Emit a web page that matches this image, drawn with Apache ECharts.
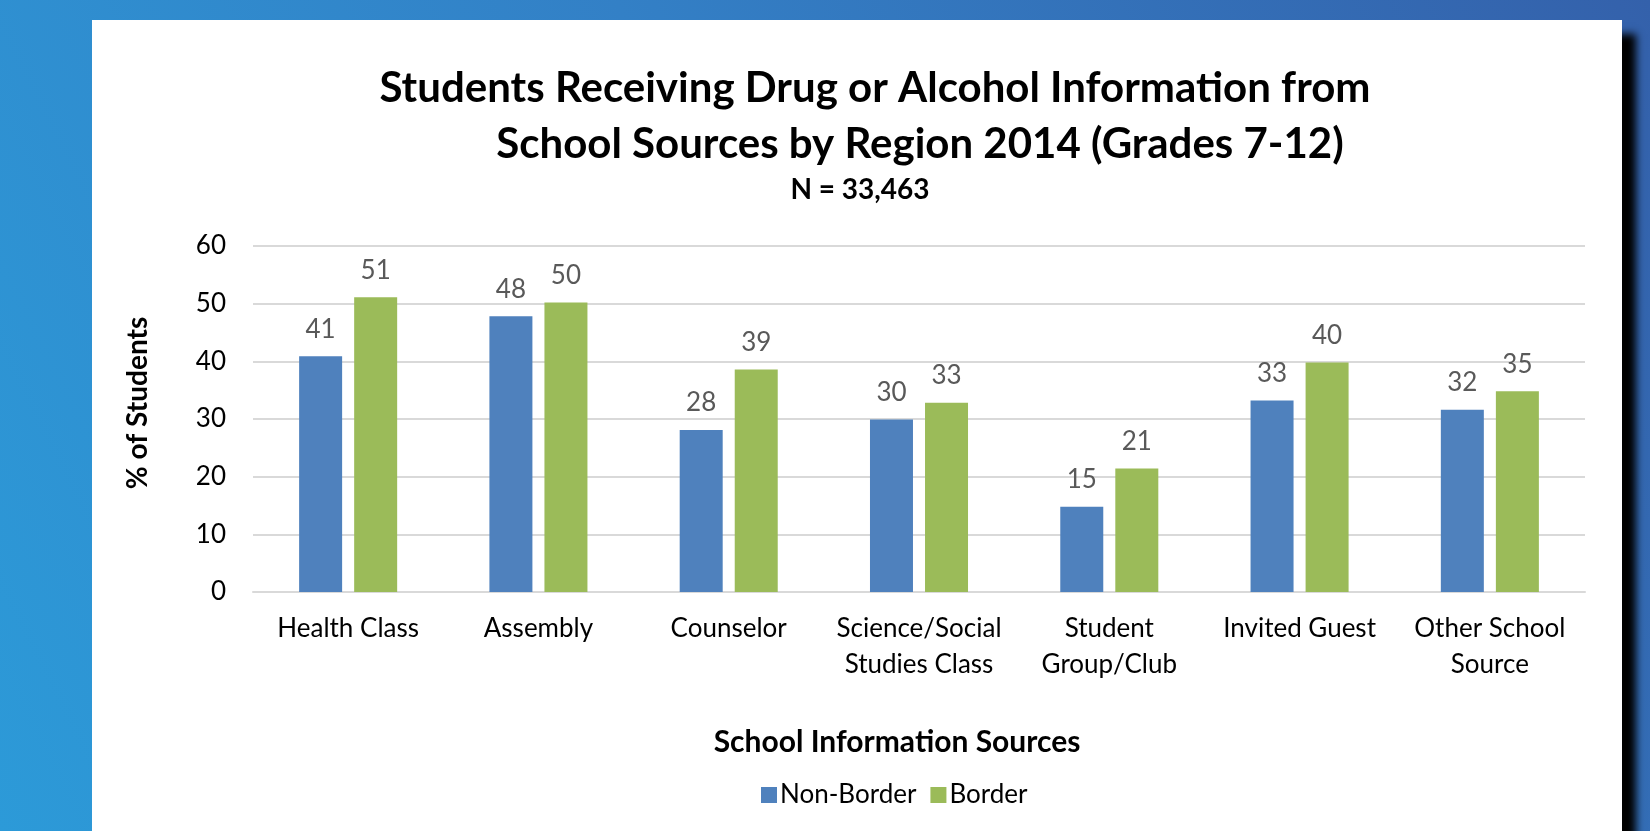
<!DOCTYPE html>
<html lang="en">
<head>
    <meta charset="UTF-8">
    <title>Students Receiving Drug or Alcohol Information</title>
    <script src="https://cdn.jsdelivr.net/npm/echarts@6/dist/echarts.min.js"></script>
    <style>
        html, body, #chart {
            width: 100%;
            height: 100%;
            padding: 0;
            margin: 0;
            overflow: hidden;
        }
    </style>
</head>
<body>
<div id="chart"></div>
<script>
    // data
    var categories = ["Health Class", "Assembly", "Counselor", "Science/Social\nStudies Class",
        "Student\nGroup/Club", "Invited Guest", "Other School\nSource"];
    var nonBorder = [40.9, 47.8, 28.1, 29.9, 14.8, 33.2, 31.6];
    var border = [51.1, 50.2, 38.6, 32.8, 21.4, 39.8, 34.8];
    var yTicks = { min: 0, max: 60, interval: 10 };

    var FONT = "Lato";
    var myChart = echarts.init(document.getElementById("chart"));

    var valueLabel = {
        show: true,
        position: "top",
        distance: 14,
        color: "#595959",
        fontFamily: FONT,
        fontSize: 26,
        formatter: function (p) {
            return Math.round(p.value);
        }
    };

    myChart.setOption({
        animation: false,
        backgroundColor: {
            type: "linear", x: 1, y: 0, x2: 0, y2: 1,
            colorStops: [
                { offset: 0, color: "#3461ab" },
                { offset: 0.5, color: "#3380c6" },
                { offset: 1, color: "#2c9ad8" }
            ]
        },
        graphic: [{
            type: "rect",
            z: -10,
            shape: { x: 92, y: 20, width: 1530, height: 900 },
            style: {
                fill: "#ffffff",
                shadowBlur: 8,
                shadowColor: "rgba(0,0,0,1)",
                shadowOffsetX: 14,
                shadowOffsetY: 14
            }
        }, {
            type: "text",
            x: 138, y: 403,
            rotation: Math.PI / 2,
            style: {
                text: "% of Students",
                fill: "#000",
                font: "bold 28px " + FONT,
                align: "center",
                verticalAlign: "middle"
            }
        }, {
            type: "text",
            x: 897, y: 742,
            style: {
                text: "School Information Sources",
                fill: "#000",
                font: "bold 30px " + FONT,
                align: "center",
                verticalAlign: "middle"
            }
        }],
        title: [{
            text: "Students Receiving Drug or Alcohol Information from",
            left: 875, top: 67, textAlign: "center",
            padding: 0,
            textStyle: { fontFamily: FONT, fontWeight: "bold", fontSize: 42, color: "#000" }
        }, {
            text: "School Sources by Region 2014 (Grades 7-12)",
            left: 920, top: 123, textAlign: "center",
            padding: 0,
            textStyle: { fontFamily: FONT, fontWeight: "bold", fontSize: 42, color: "#000" }
        }, {
            text: "N = 33,463",
            left: 860, top: 176, textAlign: "center",
            padding: 0,
            textStyle: { fontFamily: FONT, fontWeight: "bold", fontSize: 28, color: "#000" }
        }],
        legend: {
            left: 756, top: 777,
            itemWidth: 16, itemHeight: 16, itemGap: 14,
            icon: "rect",
            textStyle: { fontFamily: FONT, fontSize: 26, color: "#000", padding: [0, 0, 0, -2] },
            data: ["Non-Border", "Border"]
        },
        grid: { left: 253, right: 65, top: 246, bottom: 239 },
        xAxis: {
            type: "category",
            data: categories,
            axisLine: { lineStyle: { color: "#d9d9d9", width: 2 } },
            axisTick: { show: false },
            axisLabel: {
                interval: 0,
                margin: 19,
                color: "#000",
                fontFamily: FONT,
                fontSize: 26,
                lineHeight: 36
            }
        },
        yAxis: {
            type: "value",
            min: yTicks.min,
            max: yTicks.max,
            interval: yTicks.interval,
            axisLine: { show: false },
            axisTick: { show: false },
            splitLine: { lineStyle: { color: "#d9d9d9", width: 2 } },
            axisLabel: {
                margin: 27,
                color: "#000",
                fontFamily: FONT,
                fontSize: 26
            }
        },
        series: [{
            name: "Non-Border",
            type: "bar",
            data: nonBorder,
            barWidth: 43,
            barGap: "28%",
            itemStyle: { color: "#4f81bd" },
            label: valueLabel
        }, {
            name: "Border",
            type: "bar",
            data: border,
            barWidth: 43,
            barGap: "28%",
            itemStyle: { color: "#9bbb59" },
            label: valueLabel
        }]
    });
</script>
</body>
</html>
